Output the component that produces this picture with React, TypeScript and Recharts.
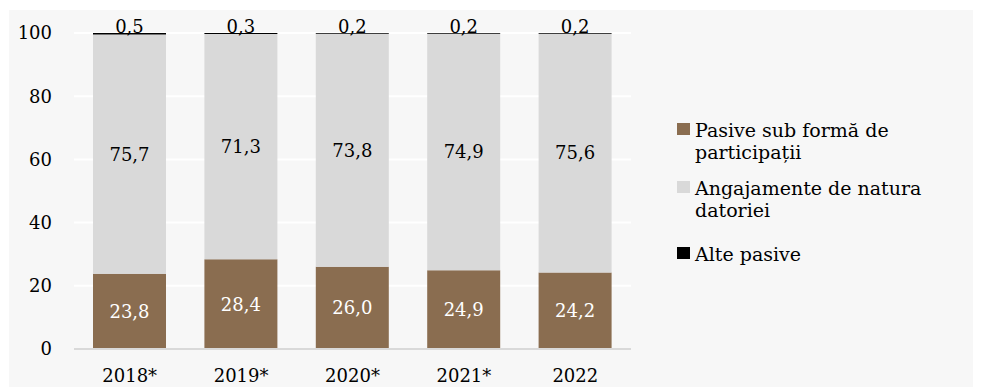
import React from 'react';
import { BarChart, Bar, XAxis, YAxis, CartesianGrid, Legend, LabelList } from 'recharts';

const categories = ['2018*', '2019*', '2020*', '2021*', '2022'];
const participatii = [23.8, 28.4, 26.0, 24.9, 24.2];
const datorii = [75.7, 71.3, 73.8, 74.9, 75.6];
const altePasive = [0.5, 0.3, 0.2, 0.2, 0.2];
const yTicks = [0, 20, 40, 60, 80, 100];

const seriesNames = ['Pasive sub formă de participații', 'Angajamente de natura datoriei', 'Alte pasive'];
const legendLines = [['Pasive sub formă de', 'participații'], ['Angajamente de natura', 'datoriei'], ['Alte pasive']];
const legendGaps = [14, 22, 0];
const colors = ['#8a6d50', '#d9d9d9', '#000000'];

const data = categories.map((c, i) => ({
  cat: c,
  participatii: participatii[i],
  datorii: datorii[i],
  alte: altePasive[i],
}));

const FONT = '"DejaVu Serif", serif';
const fmt = (v: any) => Number(v).toFixed(1).replace('.', ',');

const CustomLegend = () => (
  <div style={{ paddingLeft: 46, fontFamily: FONT, fontSize: 19, color: '#000' }}>
    {legendLines.map((lines, i) => (
      <div key={i} style={{ display: 'flex', alignItems: 'flex-start', marginBottom: legendGaps[i] }}>
        <div style={{ width: 13, height: 12, background: colors[i], marginTop: 4, marginRight: 5, flexShrink: 0 }} />
        <div style={{ lineHeight: '22px', whiteSpace: 'nowrap' }}>
          {lines.map((l, j) => (
            <div key={j}>{l}</div>
          ))}
        </div>
      </div>
    ))}
  </div>
);

export default function App() {
  return (
    <div style={{ marginLeft: 1, marginTop: 2, width: 972, height: 377, background: '#f7f7f7' }}>
      <BarChart
        width={972}
        height={377}
        data={data}
        margin={{ top: 23, right: 50, left: 0, bottom: 0 }}
        barSize={73}
        style={{ fontFamily: FONT }}
      >
        <CartesianGrid horizontal vertical={false} stroke="#ffffff" strokeWidth={2} />
        <XAxis
          dataKey="cat"
          height={38}
          tickSize={0}
          tickMargin={20}
          axisLine={{ stroke: '#d9d9d9', strokeWidth: 2 }}
          tick={{ fill: '#000', fontSize: 18, fontFamily: FONT }}
        />
        <YAxis
          width={65}
          domain={[0, 100]}
          ticks={yTicks}
          allowDataOverflow
          tickSize={0}
          tickMargin={22}
          axisLine={false}
          tick={{ fill: '#000', fontSize: 18, fontFamily: FONT }}
        />
        <Legend
          layout="vertical"
          align="right"
          verticalAlign="middle"
          wrapperStyle={{ width: 300, top: 109 }}
          content={() => <CustomLegend />}
        />
        <Bar dataKey="participatii" name={seriesNames[0]} stackId="a" fill={colors[0]} isAnimationActive={false}>
          <LabelList dataKey="participatii" position="center" fill="#ffffff" fontSize={18} fontFamily={FONT} formatter={fmt} />
        </Bar>
        <Bar dataKey="datorii" name={seriesNames[1]} stackId="a" fill={colors[1]} isAnimationActive={false}>
          <LabelList dataKey="datorii" position="center" fill="#000000" fontSize={18} fontFamily={FONT} formatter={fmt} />
        </Bar>
        <Bar dataKey="alte" name={seriesNames[2]} stackId="a" fill={colors[2]} isAnimationActive={false}>
          <LabelList dataKey="alte" position="top" offset={0} fill="#000000" fontSize={18} fontFamily={FONT} formatter={fmt} />
        </Bar>
      </BarChart>
    </div>
  );
}
